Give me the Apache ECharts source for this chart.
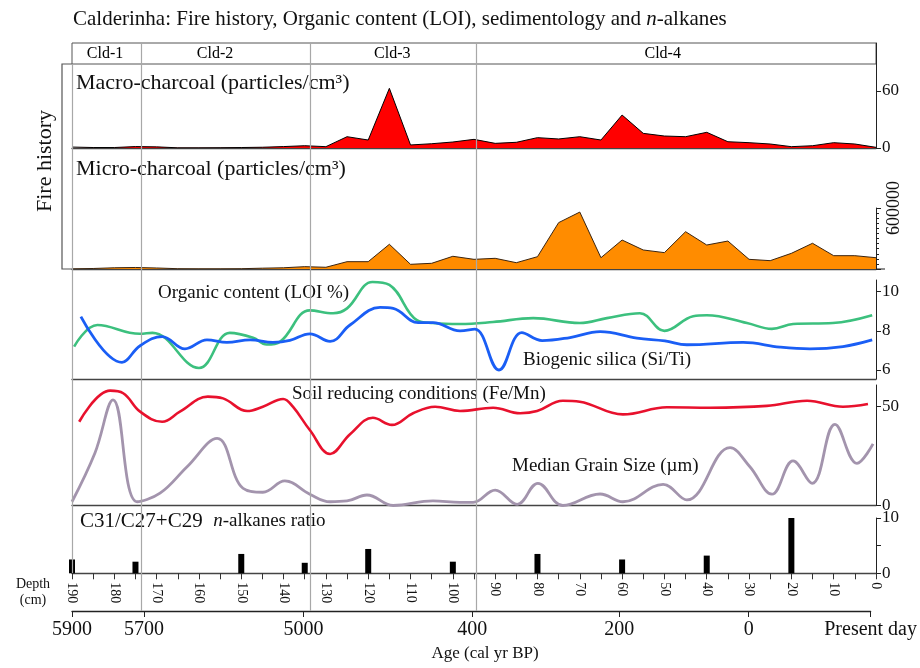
<!DOCTYPE html>
<html><head><meta charset="utf-8">
<script src="https://cdn.jsdelivr.net/npm/echarts@6/dist/echarts.min.js"></script>
<style>html,body{margin:0;padding:0;background:#fff}#c{width:920px;height:668px}</style>
</head><body><div id="c"></div>
<script>
// ---------- DATA ----------
const charDepth = [0,5,10,15,20,25,30,35,40,45,50,55,60,65,70,75,80,85,90,95,100,105,110,115,120,125,130,135,140,145,150,155,160,165,170,175,180,185,190];
const macroCharcoal = [0.7,4.2,5.6,2.4,1.4,4.2,5.6,6.6,16.5,11.9,12.6,15.4,34.7,8.4,11.9,9.5,10.9,6,4.9,9.1,6.3,4.5,3.2,62.8,8.4,11.9,1.4,2.4,1.5,0.8,0.5,0.3,0.2,0.2,1.2,1.5,0.5,0.5,1];
const microCharcoal = [111000,131000,131000,253000,154000,82000,95000,275000,236000,367000,161000,187000,285000,111000,560000,456000,121000,62000,105000,95000,125000,56000,46000,243000,72000,72000,17000,23000,12000,8000,3000,2000,2000,3000,10000,15000,12000,5000,2000];

const loiDepth = [189.5,184,174,171,160,152.7,147.2,144,140.8,133.8,128.3,125,119,115,108.5,104.7,98.3,90.5,81,70,63.6,55.8,50,43.2,40,30.5,24.6,19.6,10.2,0.9];
const loiValue = [7.2,8.3,7.85,7.9,6.1,7.9,7.65,7.3,7.45,9.05,8.9,9.15,10.5,10.35,8.55,8.4,8.35,8.45,8.65,8.4,8.65,8.9,8.0,8.75,8.8,8.4,8.1,8.35,8.4,8.8];

const siTiDepth = [187.9,178.2,173.9,168.7,163.3,158.1,153.4,147.9,142.5,138.5,133.8,129,124.3,117.2,114.1,108.2,104.7,98.3,94.8,89.1,83.7,78.9,72.3,65.2,56.5,49.9,44.7,31.4,22.7,15.6,7.8,0.9];
const siTiValue = [8.73,6.39,7.24,7.71,7.08,7.54,7.41,7.54,7.41,7.51,7.85,7.46,8.3,9.2,9.15,8.42,8.42,8.0,8.09,6.0,7.91,7.5,7.66,7.96,7.63,7.49,7.29,7.41,7.17,7.08,7.2,7.54];

const feMnDepth = [188.3,181,177.9,173.9,168.7,164.5,157.9,154.3,148.6,144.9,140.1,137.8,133.8,129,124.3,118.9,114.4,109.4,104.2,98.3,90.5,84.1,80.1,74,70,59.8,49.4,39.2,25.8,16.3,7.8,1.9];
const feMnValue = [42.3,58,56.7,47.4,42.3,47.4,55,54.1,47.7,49.9,53.8,49.9,38.1,26,36,44.3,40.7,46.6,49.9,47.7,49.4,46.6,47.7,52.9,52.4,46,49.6,49.4,50.3,52.9,49.9,51.3];

const grainDepth = [190,184.6,180.3,174.6,169.2,162.8,155.7,149.6,144.9,139.7,133.8,129,125,120.3,114.1,104.7,98.3,95.2,90,84.8,79.9,74,65.2,59.8,50.3,44.7,34.5,29.8,24.6,19.6,15.1,9.7,4.5,0.7];
const grainValue = [1.9,26.4,53.3,1.9,6.2,19.6,33.9,8.7,6.7,12.4,5.7,1.9,2.3,5.3,0,2.3,1.6,1.6,7.8,0.6,11.2,0,5.8,1.9,10.7,2.8,29.2,19.6,5.7,22.5,11.2,41,21.3,31.1];

const alkDepth = [190,175,150,135,120,100,80,60,40,20];
const alkRatio = [2.5,2.1,3.5,1.9,4.4,2.1,3.5,2.5,3.2,10];

const zoneNames = ['Cld-1','Cld-2','Cld-3','Cld-4'];
const zoneLabelDepth = [182.2,156.2,114.3,50.4];
const zoneBounds = [173.7,133.8,94.5];

const ageLabels = ['5900','5700','5000','400','200','0','Present day'];
const ageDepth = [190,172.9,134.9,94.8,59.8,29,0];

// ---------- CHART ----------
const FONT = 'Liberation Serif';
const L = 72, R = 44;
const pair = (xs, ys) => xs.map((x, i) => [x, ys[i]]);
const AX = '#222';

function xAx(gi, line) {
  return {type:'value', gridIndex:gi, min:0, max:190, inverse:true,
    axisLine:{show:!!line, onZero:false, lineStyle:{color:'#444', width:1.3}},
    axisTick:{show:false}, axisLabel:{show:false}, splitLine:{show:false}};
}
function yAx(gi, min, max, ticks, labels, extra) {
  const o = {type:'value', gridIndex:gi, position:'right', min:min, max:max,
    axisLine:{show:true, lineStyle:{color:AX, width:1}},
    axisTick:{show:true, length:5, lineStyle:{color:AX}, customValues:ticks},
    axisLabel:{show:true, color:'#111', fontFamily:FONT, fontSize:17, margin:6, customValues:labels},
    splitLine:{show:false}};
  return Object.assign(o, extra || {});
}
function hiddenY(gi) {
  return {type:'value', gridIndex:gi, min:0, max:1, show:false};
}

const grids = [
  {left:L, right:R, top:43, height:21, show:true, borderColor:'#555', borderWidth:1}, //0 header
  {left:L, right:R, top:43, height:105},   //1 macro
  {left:L, right:R, top:208, height:61},   //2 micro
  {left:L, right:R, top:280, height:99},   //3 LOI
  {left:L, right:R, top:385, height:120.5},//4 Fe/Mn
  {left:L, right:R, top:518, height:55.3}, //5 alkanes
  {left:L, right:R, top:600, height:11},   //6 age
  {left:L, right:R, top:43, height:568},   //7 zone lines
  {left:L, right:R, top:64, height:509}    //8 left line
];

const xAxes = [
  xAx(0,false), xAx(1,true), xAx(2,true), xAx(3,true), xAx(4,true),
  {type:'value', gridIndex:5, min:0, max:190, interval:5, inverse:true,
    axisLine:{show:true, onZero:false, lineStyle:{color:'#444', width:1.3}},
    axisTick:{show:true, length:6, inside:false, lineStyle:{color:'#333'}},
    axisLabel:{show:true, rotate:-90, margin:9, color:'#111', fontFamily:FONT, fontSize:14,
      formatter: v => (v % 10 === 0 ? String(v) : '')},
    splitLine:{show:false}},
  {type:'value', gridIndex:6, min:0, max:190, inverse:true,
    axisLine:{show:true, onZero:false, lineStyle:{color:'#222', width:1.3}},
    axisTick:{show:true, length:6, customValues:ageDepth, lineStyle:{color:'#222'}},
    axisLabel:{show:true, margin:9, color:'#111', fontFamily:FONT, fontSize:20, customValues:ageDepth,
      formatter: v => { const i = ageDepth.indexOf(v); return i >= 0 ? ageLabels[i] : ''; }},
    splitLine:{show:false}},
  xAx(7,false), xAx(8,false)
];

const yAxes = [
  hiddenY(0),
  yAx(1, 0, 110.5, [0,60], [0,60]),
  yAx(2, 0, 600000, undefined, undefined, {
    interval:600000,
    axisTick:{show:true, length:5, lineStyle:{color:AX}},
    minorTick:{show:true, splitNumber:12, length:3, lineStyle:{color:AX}},
    axisLabel:{show:true, rotate:90, color:'#111', fontFamily:FONT, fontSize:18, margin:9,
      formatter: v => (v === 600000 ? '600000' : '')}
  }),
  yAx(3, 5.54, 10.6, [6,8,10], [6,8,10]),
  yAx(4, 0, 60.86, [0,50], [0,50]),
  yAx(5, 0, 10, [0,5,10], [0,10]),
  hiddenY(6), hiddenY(7), hiddenY(8)
];

const series = [
  {type:'scatter', xAxisIndex:0, yAxisIndex:0, data: zoneLabelDepth.map(d => [d, 0.5]),
   symbol:'circle', symbolSize:0.1, itemStyle:{color:'#ffffff', opacity:1}, silent:true, z:10,
   label:{show:true, position:'inside', color:'#000', opacity:1, textBorderWidth:0,
     fontFamily:FONT, fontSize:16, formatter: p => zoneNames[p.dataIndex]}},
  {type:'line', xAxisIndex:1, yAxisIndex:1, data: pair(charDepth, macroCharcoal), symbol:'none',
   lineStyle:{color:'#000', width:1}, areaStyle:{color:'#ff0000', opacity:1}, z:3},
  {type:'line', xAxisIndex:2, yAxisIndex:2, data: pair(charDepth, microCharcoal), symbol:'none',
   lineStyle:{color:'#3a2410', width:1}, areaStyle:{color:'#ff8c00', opacity:1}, z:3},
  {type:'line', xAxisIndex:3, yAxisIndex:3, data: pair(loiDepth, loiValue), symbol:'none', smooth:0.4,
   lineStyle:{color:'#3cc07e', width:2.6}, z:4},
  {type:'line', xAxisIndex:3, yAxisIndex:3, data: pair(siTiDepth, siTiValue), symbol:'none', smooth:0.4,
   lineStyle:{color:'#1a5ef5', width:2.8}, z:5},
  {type:'line', xAxisIndex:4, yAxisIndex:4, data: pair(feMnDepth, feMnValue), symbol:'none', smooth:0.4,
   lineStyle:{color:'#e8112d', width:2.6}, z:5},
  {type:'line', xAxisIndex:4, yAxisIndex:4, data: pair(grainDepth, grainValue), symbol:'none', smooth:0.4,
   lineStyle:{color:'#a394ad', width:2.8}, z:4},
  {type:'bar', xAxisIndex:5, yAxisIndex:5, data: pair(alkDepth, alkRatio), barWidth:6,
   itemStyle:{color:'#000'}},
  {type:'line', xAxisIndex:6, yAxisIndex:6, data:[[0,-5]], symbol:'none', silent:true},
  {type:'line', xAxisIndex:7, yAxisIndex:7, data:[[0,-5]], symbol:'none', silent:true, z:1,
   markLine:{silent:true, symbol:'none', label:{show:false},
     lineStyle:{color:'#a8a8a8', width:1.2, type:'solid'},
     data: zoneBounds.map(d => ({xAxis:d}))}},
  {type:'line', xAxisIndex:8, yAxisIndex:8, data:[[0,-5]], symbol:'none', silent:true, z:1,
   markLine:{silent:true, symbol:'none', label:{show:false},
     lineStyle:{color:'#a8a8a8', width:1.2, type:'solid'},
     data: [{xAxis:190}]}}
];

const txt = (x, y, text, size) => ({type:'text', x:x, y:y, silent:true,
  style:{text:text, fill:'#111', font: size + 'px "' + FONT + '"', verticalAlign:'middle'}});

const graphic = [
  {type:'text', x:73, y:19, silent:true, style:{
    text:'Calderinha: Fire history, Organic content (LOI), sedimentology and {i|n}-alkanes',
    fill:'#111', font:'21px "' + FONT + '"', verticalAlign:'middle',
    rich:{i:{fontStyle:'italic', fontFamily:FONT, fontSize:21, fill:'#111'}}}},
  {type:'polyline', silent:true, shape:{points:[[72,64],[62,64],[62,269],[72,269]]},
   style:{stroke:'#555', lineWidth:1.2, fill:null}},
  {type:'line', silent:true, shape:{x1:876, y1:269, x2:885, y2:269}, style:{stroke:'#444', lineWidth:1.2}},
  {type:'text', x:45, y:161, rotation:Math.PI/2, silent:true, style:{
    text:'Fire history', fill:'#111', font:'22px "' + FONT + '"', align:'center', verticalAlign:'middle'}},
  txt(76, 83, 'Macro-charcoal (particles/cm³)', 22),
  txt(76, 169, 'Micro-charcoal (particles/cm³)', 22),
  txt(158, 293, 'Organic content (LOI %)', 19),
  txt(523, 360, 'Biogenic silica (Si/Ti)', 19),
  txt(292, 394, 'Soil reducing conditions (Fe/Mn)', 19),
  txt(512, 466, 'Median Grain Size (µm)', 19),
  {type:'text', x:80, y:521, silent:true, style:{
    text:'C31/C27+C29  {i|n}{s|-alkanes ratio}', fill:'#111', font:'21px "' + FONT + '"', verticalAlign:'middle',
    rich:{i:{fontStyle:'italic', fontFamily:FONT, fontSize:19, fill:'#111'}, s:{fontFamily:FONT, fontSize:19, fill:'#111'}}}},
  {type:'text', x:33, y:584, silent:true, style:{text:'Depth', fill:'#111', font:'14px "' + FONT + '"', align:'center', verticalAlign:'middle'}},
  {type:'text', x:33, y:600, silent:true, style:{text:'(cm)', fill:'#111', font:'14px "' + FONT + '"', align:'center', verticalAlign:'middle'}},
  {type:'text', x:485, y:654, silent:true, style:{text:'Age (cal yr BP)', fill:'#111', font:'17px "' + FONT + '"', align:'center', verticalAlign:'middle'}}
];

const chart = echarts.init(document.getElementById('c'), null, {renderer:'canvas'});
chart.setOption({
  animation:false,
  backgroundColor:'#fff',
  textStyle:{fontFamily:FONT},
  grid:grids, xAxis:xAxes, yAxis:yAxes, series:series, graphic:graphic
});
</script>
</body></html>
